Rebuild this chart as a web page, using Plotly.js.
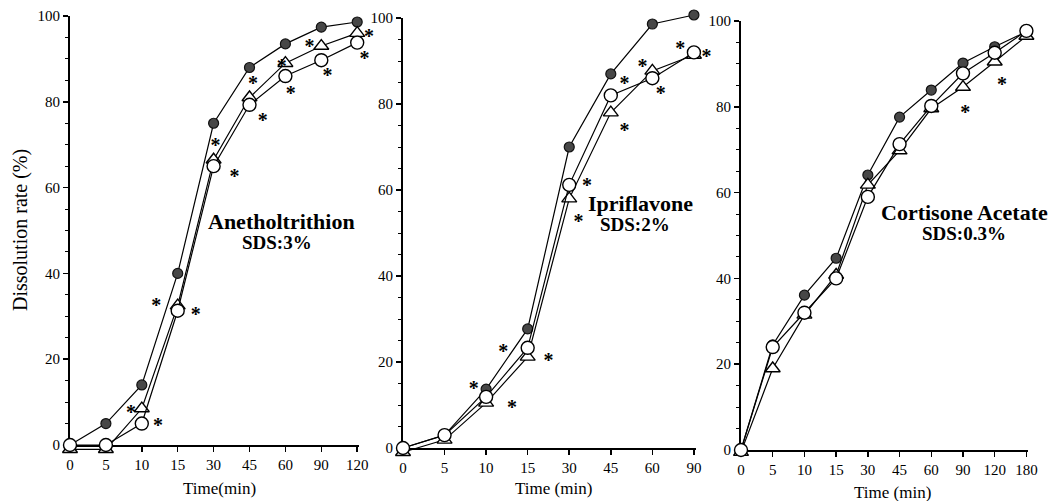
<!DOCTYPE html>
<html>
<head>
<meta charset="utf-8">
<script src="https://cdn.plot.ly/plotly-3.0.1.min.js"></script>
<style>html,body{margin:0;padding:0;background:#fff;}#chart{width:1057px;height:501px;}</style>
</head>
<body>
<div id="chart"></div>
<script>
// ---- Data ----
const timesA = ['0','5','10','15','30','45','60','90','120'];
const anetFilled = [0, 5, 14, 40, 75, 88, 93.5, 97.4, 98.6];
const anetTri    = [-1, -1, 8.5, 32.5, 66.5, 81, 89, 93, 96];
const anetOpen   = [0, 0, 5, 31.3, 65, 79.3, 86, 89.7, 93.8];
const anetStarX  = [4.05, 4.58, 5.1, 5.37, 5.9, 6.15, 6.67, 7.17, 8.33, 8.2, 2.4, 3.5, 1.7, 2.45];
const anetStarY  = [70.6, 63.4, 85, 76.5, 89, 82.7, 93.7, 87, 96, 91, 33.3, 31.2, 8.4, 5.4];

const timesI = ['0','5','10','15','30','45','60','90'];
const ipriFilled = [0, 3, 13.7, 27.7, 70, 87, 98.6, 100.7];
const ipriTri    = [-1, 1.9, 10.5, 21.2, 58, 78, 87.7, 91.4];
const ipriOpen   = [0, 3, 11.9, 23.3, 61.2, 82, 86, 92];
const ipriStarX  = [4.43, 4.22, 5.33, 5.33, 5.76, 6.2, 6.67, 7.3, 2.41, 3.5, 1.7, 2.62];
const ipriStarY  = [61.9, 53.5, 85.6, 74.6, 89.5, 83.3, 93.7, 91.9, 23.3, 21.2, 14.6, 10.2];

const timesC = ['0','5','10','15','30','45','60','90','120','180'];
const cortFilled = [0, 24.5, 36.1, 44.7, 64.1, 77.6, 83.9, 90.2, 94, 97.5];
const cortTri    = [-0.5, 19, 31.5, 40.8, 61.8, 69.8, 79.6, 84.6, 90.5, 96.5];
const cortOpen   = [0, 24, 32, 40, 59, 71.3, 80.2, 87.8, 92.6, 97.7];
const cortStarX  = [7.07, 8.23];
const cortStarY  = [79.5, 86];

const panelLabels = [['Anetholtrithion','SDS:3%'],['Ipriflavone','SDS:2%'],['Cortisone Acetate','SDS:0.3%']];
const xTitles = ['Time(min)','Time (min)','Time (min)'];
const yTitle = 'Dissolution rate (%)';
const yTicks = [0, 20, 40, 60, 80, 100];

// ---- Styles / geometry ----
const FONT = 'Liberation Serif, Times New Roman, serif';
const W = 1057, H = 501;
const PAD = 14;          // extra pixels around each plot for data axes
const STAR_SHIFT = 5;    // px to move '*' glyph down so its centre sits on the point
const lineStyle = {color:'#000', width:1.2};
function idx(arr){ return arr.map((_,i)=>i); }

const panels = [
  {times:timesA, filled:anetFilled, tri:anetTri, open:anetOpen, sx:anetStarX, sy:anetStarY, x0:70, x1:359, y0:445, y1:16},
  {times:timesI, filled:ipriFilled, tri:ipriTri, open:ipriOpen, sx:ipriStarX, sy:ipriStarY, x0:403, x1:696, y0:448, y1:18},
  {times:timesC, filled:cortFilled, tri:cortTri, open:cortOpen, sx:cortStarX, sy:cortStarY, x0:741, x1:1028, y0:450, y1:21}
];

const layout = {
  width:W, height:H, margin:{l:0,r:0,t:0,b:0},
  paper_bgcolor:'#fff', plot_bgcolor:'rgba(0,0,0,0)',
  showlegend:false, font:{family:FONT, color:'#000'},
  annotations:[]
};
const traces = [];

panels.forEach((p,k)=>{
  const n = p.times.length;
  const xmax = n-1+0.05;
  const pxu = (p.x1-p.x0)/xmax;   // px per index
  const pyu = (p.y0-p.y1)/100;    // px per %
  // visible axes (k+1)
  const vx = 'xaxis'+(k+1), vy = 'yaxis'+(k+1);
  layout[vx] = {
    domain:[p.x0/W, p.x1/W], range:[0, xmax], anchor:'y'+(k+1),
    tickvals: idx(p.times), ticktext: p.times,
    ticks:'outside', ticklen:5, tickwidth:1.5, tickcolor:'#000',
    showline:true, linewidth:2, linecolor:'#000', showgrid:false, zeroline:false,
    tickfont:{family:FONT, size:15, color:'#000'}, fixedrange:true
  };
  layout[vy] = {
    domain:[1-p.y0/H, 1-p.y1/H], range:[0,100], anchor:'x'+(k+1),
    tickvals:yTicks,
    ticks:'outside', ticklen:5, tickwidth:1.5, tickcolor:'#000',
    minor:{dtick:5, tick0:0, ticks:'outside', ticklen:3, tickcolor:'#000', tickwidth:1},
    showline:true, linewidth:2, linecolor:'#000', showgrid:false, zeroline:false,
    tickfont:{family:FONT, size:15, color:'#000'}, fixedrange:true
  };
  // empty trace so the visible subplot (axes) is drawn
  traces.push({x:[], y:[], xaxis:'x'+(k+1), yaxis:'y'+(k+1), mode:'markers', hoverinfo:'skip'});
  // hidden data axes (k+4) with same scale but a little wider
  const dx = 'xaxis'+(k+4), dy = 'yaxis'+(k+4);
  layout[dx] = {domain:[(p.x0-PAD)/W, (p.x1+PAD)/W], range:[-PAD/pxu, xmax+PAD/pxu],
    visible:false, anchor:'y'+(k+4), fixedrange:true};
  layout[dy] = {domain:[1-(p.y0+PAD)/H, 1-(p.y1-PAD)/H], range:[-PAD/pyu, 100+PAD/pyu],
    visible:false, anchor:'x'+(k+4), fixedrange:true};
  const xa = 'x'+(k+4), ya = 'y'+(k+4);
  const xs = idx(p.times);
  traces.push({x:xs, y:p.filled, xaxis:xa, yaxis:ya, mode:'lines+markers', cliponaxis:false,
    line:lineStyle, marker:{symbol:'circle', size:10, color:'#474747', line:{color:'#111', width:1.2}}});
  traces.push({x:xs, y:p.tri, xaxis:xa, yaxis:ya, mode:'lines+markers', cliponaxis:false,
    line:lineStyle, marker:{symbol:'triangle-up', size:13, color:'#fff', line:{color:'#000', width:1.4}}});
  traces.push({x:xs, y:p.open, xaxis:xa, yaxis:ya, mode:'lines+markers', cliponaxis:false,
    line:lineStyle, marker:{symbol:'circle', size:13, color:'#fff', line:{color:'#000', width:1.4}}});
  traces.push({x:p.sx, y:p.sy.map(v=>v-STAR_SHIFT/pyu), xaxis:xa, yaxis:ya, mode:'text', cliponaxis:false,
    text:p.sx.map(()=>'*'), textposition:'middle center',
    textfont:{family:FONT, size:20, color:'#000', weight:'bold'}});
});

const labelPos = [
  [[281.5,222],[277,243]],
  [[640,203],[635,224]],
  [[964.5,212],[964,233]]
];
panelLabels.forEach((lab,k)=>{
  layout.annotations.push({xref:'paper', yref:'paper', x:labelPos[k][0][0]/W, y:1-labelPos[k][0][1]/H,
    text:'<b>'+lab[0]+'</b>', showarrow:false, xanchor:'center', yanchor:'middle',
    font:{family:FONT, size:22, color:'#000'}});
  layout.annotations.push({xref:'paper', yref:'paper', x:labelPos[k][1][0]/W, y:1-labelPos[k][1][1]/H,
    text:'<b>'+lab[1]+'</b>', showarrow:false, xanchor:'center', yanchor:'middle',
    font:{family:FONT, size:19, color:'#000'}});
});
const xtPos = [[219,488],[553,488],[892,492]];
xTitles.forEach((t,k)=>{
  layout.annotations.push({xref:'paper', yref:'paper', x:xtPos[k][0]/W, y:1-xtPos[k][1]/H,
    text:t, showarrow:false, xanchor:'center', yanchor:'middle',
    font:{family:FONT, size:17, color:'#000'}});
});
layout.annotations.push({xref:'paper', yref:'paper', x:21/W, y:1-230/H, text:yTitle, textangle:-90,
  showarrow:false, xanchor:'center', yanchor:'middle', font:{family:FONT, size:20, color:'#000'}});

Plotly.newPlot('chart', traces, layout, {displayModeBar:false, staticPlot:true});
</script>
</body>
</html>
